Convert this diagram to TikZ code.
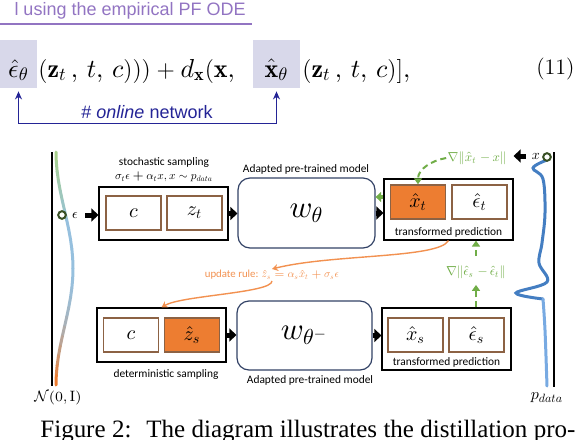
\documentclass[tikz,border=0pt]{standalone}
\usepackage{amsmath,amssymb}
\usepackage{fontspec}
\newfontfamily\figfont{Carlito}
\newfontfamily\topfont{Liberation Sans}
\newfontfamily\capfont{Liberation Serif}
%math letters scaled from the 10pt design at every size
\DeclareFontFamily{OML}{cmm}{\skewchar\font'177}
\DeclareFontShape{OML}{cmm}{m}{it}{<->cmmi10}{}
\DeclareFontShape{OML}{cmm}{b}{it}{<->cmmib10}{}
\DeclareFontFamily{OMS}{cmsy}{\skewchar\font'60}
\DeclareFontShape{OMS}{cmsy}{m}{n}{<->cmsy10}{}
\DeclareFontShape{OMS}{cmsy}{b}{n}{<->cmbsy10}{}
\usetikzlibrary{arrows.meta,calc,positioning}
\definecolor{boxbrown}{RGB}{140,98,68}
\definecolor{fillorange}{RGB}{237,125,49}
\definecolor{modelnavy}{RGB}{50,66,102}
\definecolor{gradgreen}{RGB}{112,173,71}
\definecolor{ruleorange}{RGB}{242,145,80}
\definecolor{pdatablue}{RGB}{68,126,194}
\definecolor{pdatalight}{RGB}{120,170,226}
\definecolor{noisegreen}{RGB}{168,208,140}
\definecolor{noiseblue}{RGB}{150,192,222}
\definecolor{noiseorange}{RGB}{237,125,49}
\definecolor{markgreen}{RGB}{56,80,36}
\definecolor{eqshade}{RGB}{216,216,234}
\definecolor{onlinenavy}{RGB}{36,36,150}
\definecolor{pfpurple}{RGB}{146,116,194}
\newcommand\labelfont{\figfont\fontsize{5.7pt}{6.7pt}\selectfont}
\newcommand\rulefont{\figfont\fontsize{5.4pt}{6.4pt}\selectfont}
\newcommand\tokenfont{\fontsize{10pt}{12pt}\selectfont}
\newcommand\modelfont{\fontsize{15.5pt}{18pt}\selectfont}
\newcommand\gradfont{\fontsize{6.5pt}{7.5pt}\selectfont}
\newcommand\eqfont{\fontsize{13pt}{15pt}\selectfont}
\newcommand\numfont{\fontsize{11pt}{13pt}\selectfont}
\tikzset{
%Define standard arrow tip
>=Stealth,
%Boxes of the diagram
sample box/.style={draw=black, line width=0.6pt, inner sep=0pt, minimum width=64.5pt},
token box/.style={draw=boxbrown, line width=0.7pt, inner sep=0pt, minimum width=27.5pt, minimum height=17pt, font=\tokenfont},
token filled/.style={token box, fill=fillorange},
model box/.style={draw=modelnavy, line width=0.6pt, rounded corners=6pt, inner sep=0pt, minimum width=68.5pt, minimum height=35pt, font=\modelfont},
small label/.style={inner sep=0.5pt, font=\labelfont},
grad label/.style={inner sep=0.5pt, text=gradgreen, font=\gradfont},
rule label/.style={inner sep=0.5pt, text=ruleorange, font=\rulefont},
dot marker/.style={circle, draw=markgreen, line width=1pt, fill=white, inner sep=0pt, minimum size=3.8pt},
eq shade/.style={fill=eqshade, inner xsep=0pt, inner ysep=0pt, text height=18.5pt, text depth=5.5pt, font=\eqfont},
%Connectors
block arrow/.style={line width=2.5pt, -{Triangle[width=6.5pt,length=3.5pt]}},
feedback arrow/.style={draw=gradgreen, line width=1.6pt, -{Triangle[width=5pt,length=2.8pt]}},
grad arrow/.style={draw=gradgreen, line width=1pt, dash pattern=on 3pt off 2pt, -{Triangle[width=4pt,length=3pt]}},
rule arrow/.style={draw=ruleorange, line width=0.7pt, -{Stealth[width=3.5pt,length=3pt]}},
online arrow/.style={draw=onlinenavy, line width=0.6pt, {Stealth[width=3.5pt,length=4pt]}-{Stealth[width=3.5pt,length=4pt]}},
}

\begin{document}
\begin{tikzpicture}[x=0.5pt,y=-0.5pt]
    \useasboundingbox (0,0) rectangle (580,440);
    \clip (0,0) rectangle (580,440);
    %Equation (11) above the figure
    \node[anchor=base east, inner sep=0pt, text=pfpurple, font=\topfont\fontsize{9pt}{11pt}\selectfont] (pftitle) at (246,15) {l using the empirical PF ODE};
    \draw[pfpurple, line width=0.6pt] (0,24) -- (252,24);
    \node[eq shade, minimum width=18.5pt, anchor=base] (epsbox) at (18.5,77) {$\hat{\epsilon}_\theta$};
    \node[anchor=base west, inner sep=0pt, font=\eqfont] (eqmid) at (38,77) {$(\mathbf{z}_t\,,\, t,\, c))) + d_{\mathbf{x}}(\mathbf{x},$};
    \node[eq shade, minimum width=23.5pt, anchor=base] (xbox) at (276.5,77) {$\hat{\mathbf{x}}_\theta$};
    \node[anchor=base west, inner sep=0pt, font=\eqfont] (eqend) at (302,77) {$(\mathbf{z}_t\,,\, t,\, c)],$};
    \node[anchor=base east, inner sep=0pt, font=\numfont] (eqnum) at (575,74) {(11)};
    \draw[online arrow] ([yshift=-1.5pt]epsbox.south) -- ++(0,32) -| ([yshift=-1.5pt]xbox.south);
    \node[inner sep=0pt, text=onlinenavy, font=\topfont\fontsize{9pt}{11pt}\selectfont] (online) at (147,112) {\# \textit{online} network};

    %Noise distribution on the left
    \foreach \i in {0,...,23}{
      \pgfmathsetmacro\ta{\i/24}
      \pgfmathsetmacro\tb{(\i+1)/24}
      \pgfmathtruncatemacro\mix{\i<12 ? max(0,100-\i*100/7) : 100-((\i-12)/11)^2*100}
      \ifnum\i<12 \colorlet{noiseseg}{noisegreen!\mix!noiseblue}\else\colorlet{noiseseg}{noiseblue!\mix!noiseorange}\fi
      \draw[noiseseg, line width=1.5pt, line cap=round] ({56+17*sin(180*\ta)^2},{152+233*\ta}) -- ({56+17*sin(180*\tb)^2},{152+233*\tb});
    }
    \draw[line width=0.8pt] (52,152) -- (52,386);
    \node[dot marker] (epsmark) at (62,215) {};
    \node[inner sep=0.5pt, font=\fontsize{7pt}{8pt}\selectfont] (epslabel) at (75,215) {$\epsilon$};
    \node[inner sep=0pt, font=\fontsize{7.5pt}{9pt}\selectfont] (noiselabel) at (58,398) {$\mathcal{N}(0,\mathrm{I})$};

    %Data distribution on the right
    \draw[pdatablue, line width=1.5pt, line cap=round] plot[smooth, tension=0.6] coordinates {(547,160) (533,168) (543,179) (545,213) (542,243) (539,263) (547,282) (516,293) (543,299)};
    \draw[pdatalight, line width=1.5pt, line cap=round] plot[smooth, tension=0.6] coordinates {(543,299) (545,330) (547,386)};
    \draw[line width=0.8pt] (554,152) -- (554,387);
    \node[dot marker] (xmark) at (547,157) {};
    \node[inner sep=0.5pt, font=\fontsize{7pt}{8pt}\selectfont] (xlabel) at (536,156) {$x$};
    \node[inner sep=0pt, font=\fontsize{8pt}{9pt}\selectfont] (pdatalabel) at (547,398) {$p_{data}$};

    %Online branch
    \node[small label] (stochlabel) at (164,163) {stochastic sampling};
    \node[small label] (stochform) at (164,177) {$\sigma_t\epsilon+\alpha_t x, x\sim p_{data}$};
    \node[sample box, minimum height=26.5pt] (box1) at (163.5,213.5) {};
    \node[token box] (c1) at (133.5,213) {$c$};
    \node[token box] (zt) at (194.5,213) {$z_t$};
    \node[model box] (model1) at (306.5,213) {$w_\theta$};
    \node[small label] (model1label) at (306,169) {Adapted pre-trained model};
    \node[sample box, minimum height=30.5pt] (box3) at (448.5,209.5) {};
    \node[token filled] (xt) at (418,202) {$\hat{x}_t$};
    \node[token box] (et) at (479.5,202) {$\hat{\epsilon}_t$};
    \node[small label] (box3label) at (448.5,232) {transformed prediction};

    %Target branch
    \node[sample box, minimum height=27pt] (box2) at (161.5,335) {};
    \node[token box] (c2) at (131,335) {$c$};
    \node[token filled] (zs) at (192,335) {$\hat{z}_s$};
    \node[small label] (box2label) at (166,375) {deterministic sampling};
    \node[model box, minimum width=67.5pt, minimum height=34.5pt] (model2) at (304.5,335.5) {$w_{\theta^-}$};
    \node[small label] (model2label) at (310,380) {Adapted pre-trained model};
    \node[sample box, minimum height=31pt] (box4) at (446.5,339) {};
    \node[token box] (xs) at (415.5,335) {$\hat{x}_s$};
    \node[token box] (es) at (476.5,335) {$\hat{\epsilon}_s$};
    \node[small label] (box4label) at (446.5,362) {transformed prediction};

    %Losses and update rule
    \node[grad label] (gradxt) at (477,158) {$\nabla\|\hat{x}_t\;{-}\,x\|$};
    \node[grad label] (grades) at (476,272) {$\nabla\|\hat{\epsilon}_s\;{-}\,\hat{\epsilon}_t\|$};
    \node[rule label] (update) at (272,275) {update rule: $\hat{z}_s=\alpha_s\hat{x}_t+\sigma_s\epsilon$};

    %Arrows
    \draw[block arrow] ([xshift=3pt]epslabel.east) -- (epslabel -| box1.west);
    \draw[block arrow] (box1.east) -- (box1.east -| model1.west);
    \draw[block arrow] (model1.east) -- (model1.east -| box3.west);
    \draw[feedback arrow] (box3.west |- 0,197) -- (model1.east |- 0,197);
    \draw[block arrow] (box2.east) -- (box2.east -| model2.west);
    \draw[block arrow] (model2.east) -- (model2.east -| box4.west);
    \draw[block arrow] ([xshift=-2.5pt]xlabel.west) -- ++(-12,0);
    \draw[grad arrow] (gradxt.west) to[out=190, in=90] (xt.north);
    \draw[grad arrow] (grades |- box4.north) -- ([yshift=-2.5pt]grades.south);
    \draw[grad arrow] ([yshift=4pt]grades.north) -- (grades |- box3.south);
    \draw[rule arrow] (box3.south) .. controls +(-10,18) and +(60,-15) .. (update.north);
    \draw[rule arrow] (update.south) .. controls +(0,12) and +(20,-12) .. (box2.north);

    %Caption below
    \node[anchor=base west, inner sep=0pt, font=\capfont\fontsize{12.5pt}{15pt}\selectfont] (caption) at (40,437) {\makebox[267.5pt][s]{Figure 2:~ The diagram illustrates the distillation pro-}};
\end{tikzpicture}
\end{document}
